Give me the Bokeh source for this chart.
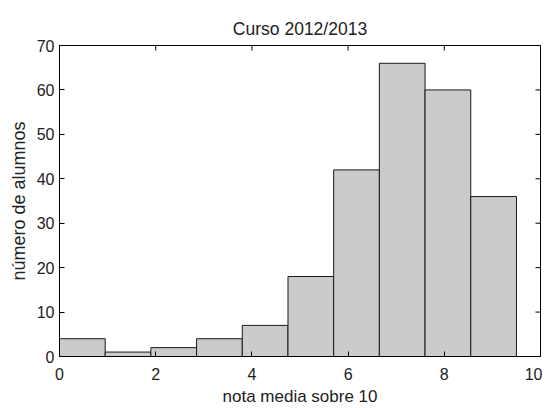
from bokeh.plotting import figure
from bokeh.models import LinearAxis, FixedTicker, Range1d, ColumnDataSource
from bokeh.embed import file_html
from bokeh.resources import INLINE

# Data
bin_left = [0.0, 0.95, 1.9, 2.85, 3.8, 4.75, 5.7, 6.65, 7.6, 8.55]
bin_right = [0.95, 1.9, 2.85, 3.8, 4.75, 5.7, 6.65, 7.6, 8.55, 9.5]
counts = [4, 1, 2, 4, 7, 18, 42, 66, 60, 36]
x_ticks = [0, 2, 4, 6, 8, 10]
y_ticks = [0, 10, 20, 30, 40, 50, 60, 70]
title_text = "Curso 2012/2013"
x_label = "nota media sobre 10"
y_label = "número de alumnos"

FONT = "Liberation Sans"
X0, X1, Y0, Y1 = 0, 10, 0, 70
FW, FH = 481, 311
TICK = 5

p = figure(frame_width=FW, frame_height=FH, output_backend="svg", toolbar_location=None,
           x_range=Range1d(X0, X1), y_range=Range1d(Y0, Y1),
           min_border_left=59, min_border_right=2, min_border_top=45, min_border_bottom=56,
           x_axis_location=None, y_axis_location=None)
p.background_fill_color = "white"
p.border_fill_color = "white"
p.outline_line_color = "black"
p.outline_line_width = 1
p.xgrid.visible = False
p.ygrid.visible = False

p.title.text = title_text
p.title.text_font = FONT
p.title.text_font_size = "17.5px"
p.title.text_font_style = "normal"
p.title.text_color = "#222222"
p.title.align = "center"
p.title.standoff = 14

src = ColumnDataSource(dict(left=bin_left, right=bin_right, top=counts, bottom=[0] * len(counts)))
p.quad(left="left", right="right", top="top", bottom="bottom", source=src,
       fill_color="#cbcbcb", line_color="#1a1a1a", line_width=1)

# mirrored inward ticks on top and right edges
dy = TICK * (Y1 - Y0) / FH
dx = TICK * (X1 - X0) / FW
p.segment(x0=x_ticks, y0=[Y1] * len(x_ticks), x1=x_ticks, y1=[Y1 - dy] * len(x_ticks),
          line_color="black", line_width=1)
p.segment(x0=[X1] * len(y_ticks), y0=y_ticks, x1=[X1 - dx] * len(y_ticks), y1=y_ticks,
          line_color="black", line_width=1)


def style_axis(ax):
    ax.axis_line_color = "black"
    ax.major_tick_line_color = "black"
    ax.major_tick_in = TICK
    ax.major_tick_out = 0
    ax.minor_tick_line_color = None
    ax.major_label_text_font = FONT
    ax.major_label_text_font_size = "16px"
    ax.major_label_text_color = "#222222"
    ax.axis_label_text_font = FONT
    ax.axis_label_text_font_style = "normal"
    ax.axis_label_text_color = "#222222"


xb = LinearAxis(ticker=FixedTicker(ticks=x_ticks), axis_label=x_label)
style_axis(xb)
xb.major_label_standoff = 11
xb.axis_label_standoff = 4
xb.axis_label_text_font_size = "17px"
p.add_layout(xb, "below")

yl = LinearAxis(ticker=FixedTicker(ticks=y_ticks), axis_label=y_label)
style_axis(yl)
yl.major_label_standoff = 5
yl.axis_label_standoff = 5
yl.axis_label_text_font_size = "18px"
p.add_layout(yl, "left")

open("out.html", "w").write(file_html(p, INLINE))
